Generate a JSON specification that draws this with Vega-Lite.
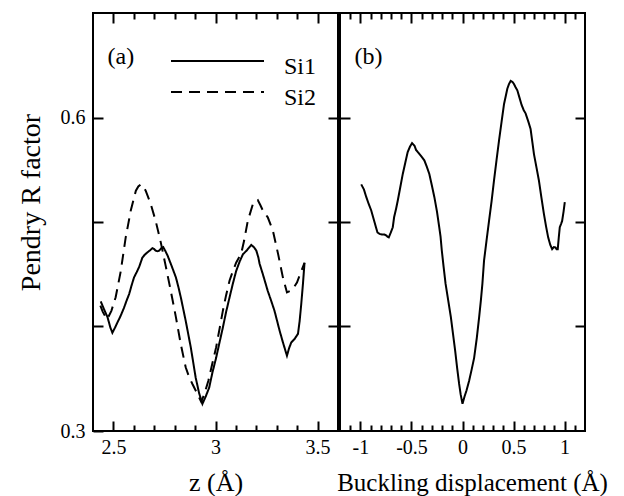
{
  "$schema": "https://vega.github.io/schema/vega-lite/v6.json",
  "padding": {"left": 16, "top": 11, "right": 5, "bottom": 0},
  "spacing": -9,
  "config": {
    "font": "Liberation Serif",
    "view": {"stroke": "black", "strokeWidth": 2},
    "axis": {"domain": false, "grid": false, "tickColor": "black", "tickWidth": 2, "labelColor": "black", "titleColor": "black", "labelFont": "Liberation Serif", "titleFont": "Liberation Serif", "titleFontWeight": "normal", "labelFontSize": 20, "labelFlush": false, "labelOverlap": false},
    "legend": {"labelFont": "Liberation Serif", "labelColor": "black"}
  },
  "hconcat": [
    {
      "width": 245,
      "height": 418,
      "data": {"values": [
        {"series": "Si1", "z": 2.438, "R": 0.424}, {"series": "Si1", "z": 2.455, "R": 0.416}, {"series": "Si1", "z": 2.471, "R": 0.409}, {"series": "Si1", "z": 2.485, "R": 0.399}, {"series": "Si1", "z": 2.495, "R": 0.394}, {"series": "Si1", "z": 2.508, "R": 0.399}, {"series": "Si1", "z": 2.52, "R": 0.404}, {"series": "Si1", "z": 2.535, "R": 0.41}, {"series": "Si1", "z": 2.552, "R": 0.418}, {"series": "Si1", "z": 2.565, "R": 0.425}, {"series": "Si1", "z": 2.577, "R": 0.431}, {"series": "Si1", "z": 2.59, "R": 0.44}, {"series": "Si1", "z": 2.601, "R": 0.447}, {"series": "Si1", "z": 2.614, "R": 0.452}, {"series": "Si1", "z": 2.626, "R": 0.457}, {"series": "Si1", "z": 2.642, "R": 0.466}, {"series": "Si1", "z": 2.655, "R": 0.469}, {"series": "Si1", "z": 2.667, "R": 0.471}, {"series": "Si1", "z": 2.68, "R": 0.473}, {"series": "Si1", "z": 2.691, "R": 0.475}, {"series": "Si1", "z": 2.7, "R": 0.474}, {"series": "Si1", "z": 2.707, "R": 0.4726}, {"series": "Si1", "z": 2.716, "R": 0.472}, {"series": "Si1", "z": 2.724, "R": 0.4726}, {"series": "Si1", "z": 2.735, "R": 0.475}, {"series": "Si1", "z": 2.744, "R": 0.476}, {"series": "Si1", "z": 2.755, "R": 0.472}, {"series": "Si1", "z": 2.765, "R": 0.468}, {"series": "Si1", "z": 2.785, "R": 0.458}, {"series": "Si1", "z": 2.806, "R": 0.447}, {"series": "Si1", "z": 2.818, "R": 0.438}, {"series": "Si1", "z": 2.83, "R": 0.428}, {"series": "Si1", "z": 2.854, "R": 0.4055}, {"series": "Si1", "z": 2.879, "R": 0.38}, {"series": "Si1", "z": 2.903, "R": 0.351}, {"series": "Si1", "z": 2.92, "R": 0.336}, {"series": "Si1", "z": 2.936, "R": 0.326}, {"series": "Si1", "z": 2.952, "R": 0.333}, {"series": "Si1", "z": 2.969, "R": 0.3415}, {"series": "Si1", "z": 2.985, "R": 0.356}, {"series": "Si1", "z": 3.003, "R": 0.37}, {"series": "Si1", "z": 3.02, "R": 0.385}, {"series": "Si1", "z": 3.036, "R": 0.399}, {"series": "Si1", "z": 3.052, "R": 0.414}, {"series": "Si1", "z": 3.069, "R": 0.428}, {"series": "Si1", "z": 3.085, "R": 0.441}, {"series": "Si1", "z": 3.101, "R": 0.453}, {"series": "Si1", "z": 3.118, "R": 0.462}, {"series": "Si1", "z": 3.134, "R": 0.469}, {"series": "Si1", "z": 3.154, "R": 0.473}, {"series": "Si1", "z": 3.175, "R": 0.478}, {"series": "Si1", "z": 3.188, "R": 0.476}, {"series": "Si1", "z": 3.2, "R": 0.4726}, {"series": "Si1", "z": 3.21, "R": 0.466}, {"series": "Si1", "z": 3.216, "R": 0.46}, {"series": "Si1", "z": 3.232, "R": 0.45}, {"series": "Si1", "z": 3.256, "R": 0.434}, {"series": "Si1", "z": 3.272, "R": 0.425}, {"series": "Si1", "z": 3.289, "R": 0.415}, {"series": "Si1", "z": 3.314, "R": 0.396}, {"series": "Si1", "z": 3.33, "R": 0.385}, {"series": "Si1", "z": 3.35, "R": 0.372}, {"series": "Si1", "z": 3.36, "R": 0.379}, {"series": "Si1", "z": 3.371, "R": 0.3847}, {"series": "Si1", "z": 3.387, "R": 0.388}, {"series": "Si1", "z": 3.404, "R": 0.393}, {"series": "Si1", "z": 3.412, "R": 0.405}, {"series": "Si1", "z": 3.42, "R": 0.4215}, {"series": "Si1", "z": 3.428, "R": 0.44}, {"series": "Si1", "z": 3.436, "R": 0.461},
        {"series": "Si2", "z": 2.436, "R": 0.42}, {"series": "Si2", "z": 2.448, "R": 0.414}, {"series": "Si2", "z": 2.462, "R": 0.409}, {"series": "Si2", "z": 2.47, "R": 0.407}, {"series": "Si2", "z": 2.49, "R": 0.415}, {"series": "Si2", "z": 2.511, "R": 0.428}, {"series": "Si2", "z": 2.536, "R": 0.453}, {"series": "Si2", "z": 2.56, "R": 0.485}, {"series": "Si2", "z": 2.585, "R": 0.511}, {"series": "Si2", "z": 2.61, "R": 0.53}, {"series": "Si2", "z": 2.622, "R": 0.534}, {"series": "Si2", "z": 2.634, "R": 0.536}, {"series": "Si2", "z": 2.646, "R": 0.534}, {"series": "Si2", "z": 2.658, "R": 0.53}, {"series": "Si2", "z": 2.683, "R": 0.517}, {"series": "Si2", "z": 2.707, "R": 0.501}, {"series": "Si2", "z": 2.732, "R": 0.4805}, {"series": "Si2", "z": 2.756, "R": 0.458}, {"series": "Si2", "z": 2.781, "R": 0.434}, {"series": "Si2", "z": 2.806, "R": 0.409}, {"series": "Si2", "z": 2.83, "R": 0.383}, {"series": "Si2", "z": 2.854, "R": 0.361}, {"series": "Si2", "z": 2.87, "R": 0.352}, {"series": "Si2", "z": 2.887, "R": 0.345}, {"series": "Si2", "z": 2.905, "R": 0.338}, {"series": "Si2", "z": 2.92, "R": 0.332}, {"series": "Si2", "z": 2.93, "R": 0.328}, {"series": "Si2", "z": 2.945, "R": 0.335}, {"series": "Si2", "z": 2.965, "R": 0.348}, {"series": "Si2", "z": 2.985, "R": 0.365}, {"series": "Si2", "z": 3.003, "R": 0.38}, {"series": "Si2", "z": 3.02, "R": 0.398}, {"series": "Si2", "z": 3.036, "R": 0.415}, {"series": "Si2", "z": 3.052, "R": 0.43}, {"series": "Si2", "z": 3.069, "R": 0.444}, {"series": "Si2", "z": 3.085, "R": 0.453}, {"series": "Si2", "z": 3.101, "R": 0.461}, {"series": "Si2", "z": 3.126, "R": 0.47}, {"series": "Si2", "z": 3.14, "R": 0.482}, {"series": "Si2", "z": 3.158, "R": 0.501}, {"series": "Si2", "z": 3.183, "R": 0.517}, {"series": "Si2", "z": 3.195, "R": 0.52}, {"series": "Si2", "z": 3.207, "R": 0.521}, {"series": "Si2", "z": 3.22, "R": 0.516}, {"series": "Si2", "z": 3.232, "R": 0.511}, {"series": "Si2", "z": 3.256, "R": 0.5045}, {"series": "Si2", "z": 3.281, "R": 0.4917}, {"series": "Si2", "z": 3.307, "R": 0.469}, {"series": "Si2", "z": 3.33, "R": 0.447}, {"series": "Si2", "z": 3.35, "R": 0.4326}, {"series": "Si2", "z": 3.365, "R": 0.434}, {"series": "Si2", "z": 3.379, "R": 0.436}, {"series": "Si2", "z": 3.399, "R": 0.442}, {"series": "Si2", "z": 3.42, "R": 0.453}, {"series": "Si2", "z": 3.436, "R": 0.461}
      ]},
      "layer": [
        {
          "mark": {"type": "line", "color": "black", "strokeWidth": 2},
          "encoding": {
            "x": {"field": "z", "type": "quantitative", "scale": {"domain": [2.4, 3.6], "nice": false, "zero": false},
              "axis": {"orient": "bottom", "values": [2.5, 2.6, 2.7, 2.8, 2.9, 3, 3.1, 3.2, 3.3, 3.4, 3.5],
                "tickSize": {"condition": {"test": "abs(datum.value*2 - round(datum.value*2)) < 0.000001", "value": -10}, "value": -6},
                "labelExpr": "abs(datum.value*2 - round(datum.value*2)) < 0.000001 ? '' + datum.value : ''",
                "labelPadding": 32, "labelBaseline": "alphabetic",
                "title": "z (Å)", "titleFontSize": 26, "titleY": 59, "titleBaseline": "alphabetic"}},
            "y": {"field": "R", "type": "quantitative", "scale": {"domain": [0.3, 0.7], "nice": false, "zero": false},
              "axis": {"orient": "left", "values": [0.3, 0.4, 0.5, 0.6], "tickSize": -10,
                "labelExpr": "datum.value == 0.3 || datum.value == 0.6 ? '' + datum.value : ''",
                "labelPadding": 18, "labelBaseline": "middle",
                "title": "Pendry R factor", "titleFontSize": 28, "titleX": -62, "titleY": 189, "titleBaseline": "middle"}},
            "strokeDash": {"field": "series", "type": "nominal",
              "scale": {"domain": ["Si1", "Si2"], "range": [[1, 0], [11, 7]]},
              "legend": {"orient": "none", "legendX": 77, "legendY": 35.5, "title": null, "symbolType": "stroke", "symbolSize": 8649, "symbolStrokeWidth": 2, "symbolStrokeColor": "black", "clipHeight": 25, "rowPadding": 0, "labelFontSize": 24, "labelOffset": 19, "labelBaseline": "middle", "padding": 0,
                "encode": {"labels": {"update": {"dy": {"value": 6}}}}}}
          }
        },
        {
          "mark": {"type": "line", "strokeOpacity": 0},
          "encoding": {
            "x": {"field": "z", "type": "quantitative",
              "axis": {"orient": "top", "values": [2.5, 2.6, 2.7, 2.8, 2.9, 3, 3.1, 3.2, 3.3, 3.4, 3.5],
                "tickSize": {"condition": {"test": "abs(datum.value*2 - round(datum.value*2)) < 0.000001", "value": -10}, "value": -6},
                "labels": false, "minExtent": 0, "maxExtent": 0,
                "title": "(a)", "titleX": 14, "titleY": 50, "titleAlign": "left", "titleBaseline": "alphabetic", "titleFontSize": 24, "titleAngle": 0}},
            "y": {"field": "R", "type": "quantitative",
              "axis": {"orient": "right", "values": [0.4, 0.5, 0.6], "tickSize": -10, "labels": false, "title": null, "minExtent": 0, "maxExtent": 0}},
            "detail": {"field": "series"}
          }
        }
      ],
      "resolve": {"axis": {"x": "independent", "y": "independent"}}
    },
    {
      "width": 245,
      "height": 418,
      "data": {"values": [
        {"d": -0.992, "R": 0.536}, {"d": -0.965, "R": 0.531}, {"d": -0.943, "R": 0.524}, {"d": -0.918, "R": 0.517}, {"d": -0.894, "R": 0.511}, {"d": -0.865, "R": 0.501}, {"d": -0.845, "R": 0.494}, {"d": -0.833, "R": 0.49}, {"d": -0.813, "R": 0.4886}, {"d": -0.79, "R": 0.488}, {"d": -0.764, "R": 0.488}, {"d": -0.745, "R": 0.487}, {"d": -0.735, "R": 0.486}, {"d": -0.722, "R": 0.4853}, {"d": -0.702, "R": 0.49}, {"d": -0.683, "R": 0.495}, {"d": -0.67, "R": 0.5045}, {"d": -0.65, "R": 0.513}, {"d": -0.634, "R": 0.5205}, {"d": -0.61, "R": 0.533}, {"d": -0.585, "R": 0.546}, {"d": -0.56, "R": 0.557}, {"d": -0.537, "R": 0.567}, {"d": -0.515, "R": 0.572}, {"d": -0.494, "R": 0.5755}, {"d": -0.47, "R": 0.573}, {"d": -0.455, "R": 0.569}, {"d": -0.439, "R": 0.567}, {"d": -0.405, "R": 0.563}, {"d": -0.374, "R": 0.559}, {"d": -0.35, "R": 0.553}, {"d": -0.325, "R": 0.546}, {"d": -0.3, "R": 0.535}, {"d": -0.276, "R": 0.524}, {"d": -0.25, "R": 0.51}, {"d": -0.228, "R": 0.495}, {"d": -0.215, "R": 0.486}, {"d": -0.203, "R": 0.473}, {"d": -0.185, "R": 0.457}, {"d": -0.166, "R": 0.441}, {"d": -0.14, "R": 0.425}, {"d": -0.114, "R": 0.409}, {"d": -0.093, "R": 0.393}, {"d": -0.072, "R": 0.377}, {"d": -0.052, "R": 0.36}, {"d": -0.033, "R": 0.345}, {"d": -0.018, "R": 0.335}, {"d": 0, "R": 0.326}, {"d": 0.02, "R": 0.333}, {"d": 0.04, "R": 0.339}, {"d": 0.065, "R": 0.348}, {"d": 0.09, "R": 0.359}, {"d": 0.114, "R": 0.37}, {"d": 0.14, "R": 0.389}, {"d": 0.163, "R": 0.409}, {"d": 0.18, "R": 0.425}, {"d": 0.195, "R": 0.441}, {"d": 0.211, "R": 0.463}, {"d": 0.235, "R": 0.482}, {"d": 0.26, "R": 0.501}, {"d": 0.285, "R": 0.52}, {"d": 0.309, "R": 0.54}, {"d": 0.333, "R": 0.559}, {"d": 0.358, "R": 0.578}, {"d": 0.383, "R": 0.596}, {"d": 0.407, "R": 0.613}, {"d": 0.425, "R": 0.621}, {"d": 0.439, "R": 0.6275}, {"d": 0.455, "R": 0.632}, {"d": 0.472, "R": 0.635}, {"d": 0.49, "R": 0.634}, {"d": 0.504, "R": 0.632}, {"d": 0.52, "R": 0.629}, {"d": 0.537, "R": 0.626}, {"d": 0.558, "R": 0.619}, {"d": 0.579, "R": 0.612}, {"d": 0.6, "R": 0.607}, {"d": 0.618, "R": 0.604}, {"d": 0.645, "R": 0.596}, {"d": 0.667, "R": 0.589}, {"d": 0.685, "R": 0.576}, {"d": 0.7, "R": 0.565}, {"d": 0.725, "R": 0.552}, {"d": 0.748, "R": 0.54}, {"d": 0.772, "R": 0.524}, {"d": 0.797, "R": 0.508}, {"d": 0.818, "R": 0.496}, {"d": 0.839, "R": 0.4853}, {"d": 0.86, "R": 0.478}, {"d": 0.878, "R": 0.474}, {"d": 0.895, "R": 0.476}, {"d": 0.91, "R": 0.4757}, {"d": 0.922, "R": 0.474}, {"d": 0.933, "R": 0.474}, {"d": 0.943, "R": 0.485}, {"d": 0.953, "R": 0.495}, {"d": 0.965, "R": 0.498}, {"d": 0.976, "R": 0.501}, {"d": 0.99, "R": 0.51}, {"d": 1.002, "R": 0.519}
      ]},
      "layer": [
        {
          "mark": {"type": "line", "color": "black", "strokeWidth": 2},
          "encoding": {
            "x": {"field": "d", "type": "quantitative", "scale": {"domain": [-1.2, 1.2], "nice": false, "zero": false},
              "axis": {"orient": "bottom", "values": [-1.1, -1, -0.9, -0.8, -0.7, -0.6, -0.5, -0.4, -0.3, -0.2, -0.1, 0, 0.1, 0.2, 0.3, 0.4, 0.5, 0.6, 0.7, 0.8, 0.9, 1, 1.1],
                "tickSize": {"condition": {"test": "abs(datum.value*2 - round(datum.value*2)) < 0.000001", "value": -10}, "value": -6},
                "labelExpr": "abs(datum.value*2 - round(datum.value*2)) < 0.000001 ? '' + datum.value : ''",
                "labelPadding": 32, "labelBaseline": "alphabetic",
                "title": "Buckling displacement (Å)", "titleFontSize": 25, "titleX": 132, "titleY": 59, "titleBaseline": "alphabetic"}},
            "y": {"field": "R", "type": "quantitative", "scale": {"domain": [0.3, 0.7], "nice": false, "zero": false},
              "axis": {"orient": "left", "values": [0.4, 0.5, 0.6], "tickSize": -10, "labels": false, "title": null, "minExtent": 0, "maxExtent": 0}}
          }
        },
        {
          "mark": {"type": "line", "strokeOpacity": 0},
          "encoding": {
            "x": {"field": "d", "type": "quantitative",
              "axis": {"orient": "top", "values": [-1.1, -1, -0.9, -0.8, -0.7, -0.6, -0.5, -0.4, -0.3, -0.2, -0.1, 0, 0.1, 0.2, 0.3, 0.4, 0.5, 0.6, 0.7, 0.8, 0.9, 1, 1.1],
                "tickSize": {"condition": {"test": "abs(datum.value*2 - round(datum.value*2)) < 0.000001", "value": -10}, "value": -6},
                "labels": false, "minExtent": 0, "maxExtent": 0,
                "title": "(b)", "titleX": 14, "titleY": 50, "titleAlign": "left", "titleBaseline": "alphabetic", "titleFontSize": 24, "titleAngle": 0}},
            "y": {"field": "R", "type": "quantitative",
              "axis": {"orient": "right", "values": [0.4, 0.5, 0.6], "tickSize": -10, "labels": false, "title": null, "minExtent": 0, "maxExtent": 0}}
          }
        }
      ],
      "resolve": {"axis": {"x": "independent", "y": "independent"}}
    }
  ]
}
